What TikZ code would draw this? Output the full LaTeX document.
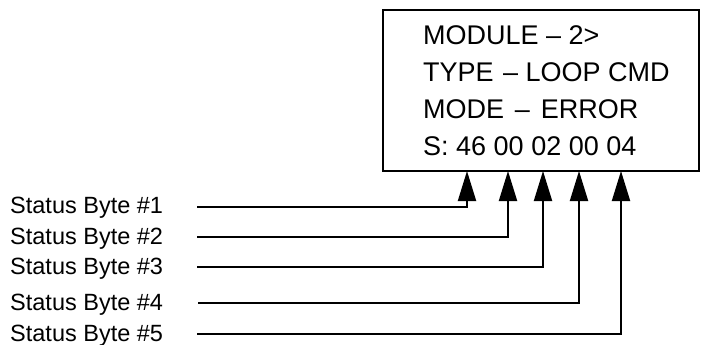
\documentclass[tikz,border=0pt]{standalone}
\usepackage{fontspec}
\setmainfont{Liberation Sans}
\usetikzlibrary{arrows.meta}
\begin{document}
\begin{tikzpicture}[x=1pt,y=-1pt,
  boxtext/.style={anchor=base west,inner sep=0pt,font=\fontsize{27}{30}\selectfont},
  lbl/.style={anchor=base west,inner sep=0pt,font=\fontsize{23.5}{26}\selectfont},
  wire/.style={line width=2pt,-{Triangle[length=30pt,width=18pt]}}]
\useasboundingbox (0,0) rectangle (701,345);
\node[draw,line width=2.5pt,anchor=north west,minimum width=316pt,minimum height=161pt,inner sep=0pt,outer sep=0pt] (box) at (383,10) {};
\node[boxtext] (m1) at (423,45) {MODULE -- 2>};
\node[boxtext] (m2) at (423,81.7) {TYPE\hspace{0.35em}-- LOOP CMD};
\node[boxtext] (m3) at (423,118.3) {MODE\hspace{0.4em}--\hspace{0.4em}ERROR};
\node[boxtext] (m4) at (423,155) {S: 46 00 02 00 04};
\node[lbl] (l1) at (10,213) {Status Byte \#1};
\node[lbl] (l2) at (10,244) {Status Byte \#2};
\node[lbl] (l3) at (10,274) {Status Byte \#3};
\node[lbl] (l4) at (10,310) {Status Byte \#4};
\node[lbl] (l5) at (10,341.5) {Status Byte \#5};
\coordinate (s1) at (197,206.5);
\coordinate (s2) at (197,237);
\coordinate (s3) at (197,267);
\coordinate (s4) at (198,302.5);
\coordinate (s5) at (197,334);
\coordinate (t1) at (467,171);
\coordinate (t2) at (508,171);
\coordinate (t3) at (543,171);
\coordinate (t4) at (579,171);
\coordinate (t5) at (621,171);
\draw[wire] (s1) -| (t1);
\draw[wire] (s2) -| (t2);
\draw[wire] (s3) -| (t3);
\draw[wire] (s4) -| (t4);
\draw[wire] (s5) -| (t5);
\end{tikzpicture}
\end{document}
